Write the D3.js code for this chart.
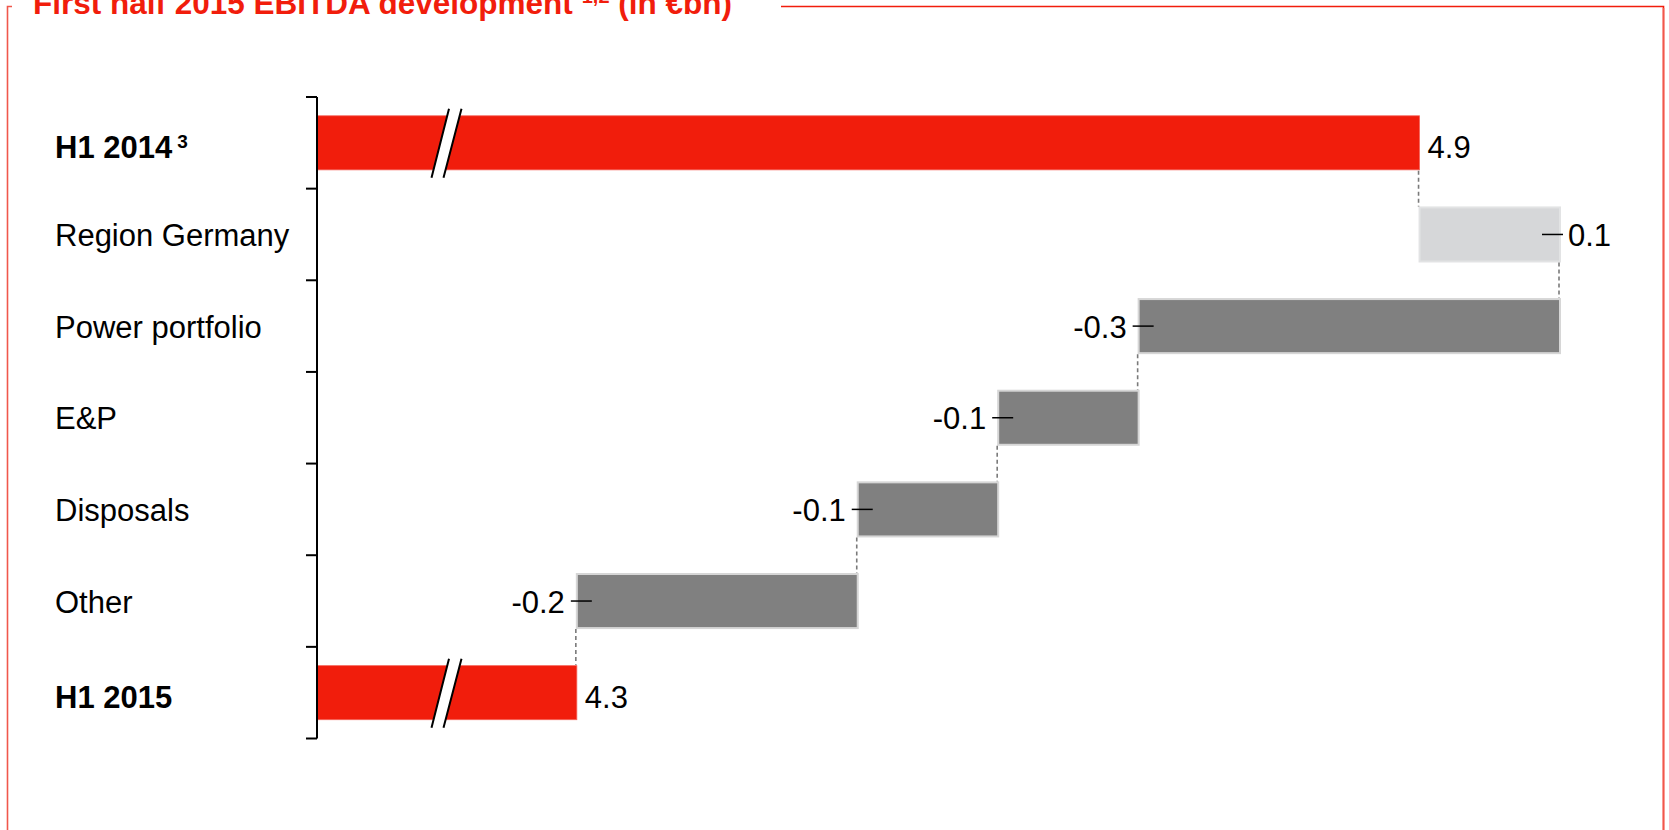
<!DOCTYPE html>
<html>
<head>
<meta charset="utf-8">
<script src="https://cdn.jsdelivr.net/npm/d3@7"></script>
<style>
  html, body { margin: 0; padding: 0; background: #fff; }
  svg { display: block; font-family: "Liberation Sans", Arial, sans-serif; }
</style>
</head>
<body>
<svg id="chart" width="1669" height="830"></svg>
<script>
// Bridge of EBITDA from H1 2014 to H1 2015 (€bn)
const categories = ["H1 2014", "Region Germany", "Power portfolio", "E&P", "Disposals", "Other", "H1 2015"];
const footnotes  = ["3", "", "", "", "", "", ""];
const values     = [4.9, 0.1, -0.3, -0.1, -0.1, -0.2, 4.3];
const kinds      = ["total", "delta", "delta", "delta", "delta", "delta", "total"];
const valueLabels = ["4.9", "0.1", "-0.3", "-0.1", "-0.1", "-0.2", "4.3"];
const totalRows  = [true, false, false, false, false, false, true];

const RED = "#f11d0c";
const svg = d3.select("#chart");

// Axis starts above zero (broken axis), so the scale domain begins at 4.115
const x = d3.scaleLinear().domain([4.115, 5.0]).range([317, 1560]);
const y = d3.scaleBand().domain(categories).range([97, 738.5])
  .paddingInner(0.41).paddingOuter(0.205);

// running totals for the waterfall
let running = 0;
const rows = categories.map((c, i) => {
  let start, end;
  if (kinds[i] === "total") { start = x.domain()[0]; end = values[i]; running = values[i]; }
  else { start = running; end = running + values[i]; running = end; }
  return { cat: c, sup: footnotes[i], v: values[i], kind: kinds[i], start, end, label: valueLabels[i], bold: totalRows[i] };
});

// frame around the chart
const frame = svg.append("g").attr("fill", "none");
frame.append("path").attr("d", "M12,6.5 H7.5 V830").attr("stroke", "#f0574c").attr("stroke-width", 1.6);
frame.append("path").attr("d", "M781,6.5 H1663.5 V830").attr("stroke", RED).attr("stroke-width", 1.6);
frame.append("path").attr("d", "M1663.5,8 V830").attr("stroke", "#f0574c").attr("stroke-width", 1.6);

// title
const title = svg.append("text").attr("x", 33).attr("y", 14)
  .attr("fill", RED).attr("font-weight", "bold").attr("font-size", 31.5);
title.append("tspan").text("First half 2015 EBITDA development");
title.append("tspan").attr("dx", 9).attr("dy", -11).attr("font-size", 20).text("1,2");
title.append("tspan").attr("dx", 0).attr("dy", 11).text(" (in €bn)");

// bars
const barColor = d => d.kind === "total" ? RED : (d.v > 0 ? "#d6d7d9" : "#808080");
const barStroke = d => d.kind === "total" ? "#f5645a" : (d.v > 0 ? "#e2e3e4" : "#d6d6d6");

svg.append("g").selectAll("rect").data(rows).join("rect")
  .attr("x", d => x(Math.min(d.start, d.end)))
  .attr("y", d => y(d.cat))
  .attr("width", d => Math.abs(x(d.end) - x(d.start)))
  .attr("height", y.bandwidth())
  .attr("fill", barColor)
  .attr("stroke", barStroke)
  .attr("stroke-width", d => d.kind === "total" ? 0.8 : 2);

// dashed connectors between consecutive bars
svg.append("g").selectAll("line").data(rows.slice(0, -1)).join("line")
  .attr("x1", d => x(d.end) - 1).attr("x2", d => x(d.end) - 1)
  .attr("y1", d => y(d.cat) + y.bandwidth() + 1)
  .attr("y2", (d, i) => y(rows[i + 1].cat) - 1)
  .attr("stroke", "#7a7a7a").attr("stroke-width", 1.6)
  .attr("stroke-dasharray", "4,3");

// axis break marks on the total bars
const breakX = 446;
const brk = svg.append("g").selectAll("g").data(rows.filter(d => d.kind === "total")).join("g")
  .attr("transform", d => `translate(${breakX},${y(d.cat) + y.bandwidth() / 2})`);
brk.append("path").attr("d", "M-14.5,35 L3,-34 L15.5,-34 L-2.5,35 Z").attr("fill", "#fff");
brk.append("path").attr("d", "M-14.5,35 L3,-34 M-2.5,35 L15.5,-34")
  .attr("stroke", "#000").attr("stroke-width", 2).attr("fill", "none");

// category axis with ticks at band boundaries
const step = y.step();
const y0 = y.range()[0];
const axis = svg.append("g").attr("stroke", "#000").attr("stroke-width", 2);
axis.append("line").attr("x1", x.range()[0]).attr("x2", x.range()[0])
  .attr("y1", y0).attr("y2", y.range()[1]);
axis.selectAll("line.tick").data(d3.range(categories.length + 1)).join("line")
  .attr("class", "tick")
  .attr("x1", x.range()[0] - 11).attr("x2", x.range()[0])
  .attr("y1", i => y0 + i * step).attr("y2", i => y0 + i * step);

// category labels
const catLabels = svg.append("g").selectAll("text").data(rows).join("text")
  .attr("x", 55)
  .attr("y", d => y(d.cat) + y.bandwidth() / 2 + (d.bold ? 15.5 : 11.5))
  .attr("font-size", 31)
  .attr("font-weight", d => d.bold ? "bold" : "normal")
  .attr("fill", "#000");
catLabels.append("tspan").text(d => d.cat);
catLabels.filter(d => d.sup).append("tspan")
  .attr("dx", 5).attr("dy", -10).attr("font-size", 19).text(d => d.sup);

// value labels with leader ticks
const vl = svg.append("g");
rows.forEach(d => {
  const cy = y(d.cat) + y.bandwidth() / 2;
  const ex = x(d.end);
  if (d.kind === "total") {
    vl.append("text").attr("x", ex + 8).attr("y", cy + 15.5)
      .attr("font-size", 31).attr("fill", "#000").text(d.label);
  } else if (d.v > 0) {
    vl.append("line").attr("x1", ex - 18).attr("x2", ex + 3).attr("y1", cy).attr("y2", cy)
      .attr("stroke", "#000").attr("stroke-width", 1.5);
    vl.append("text").attr("x", ex + 8).attr("y", cy + 11.5)
      .attr("font-size", 31).attr("fill", "#000").text(d.label);
  } else {
    vl.append("line").attr("x1", ex - 6).attr("x2", ex + 15).attr("y1", cy).attr("y2", cy)
      .attr("stroke", "#000").attr("stroke-width", 1.5);
    vl.append("text").attr("x", ex - 12).attr("y", cy + 11.5).attr("text-anchor", "end")
      .attr("font-size", 31).attr("fill", "#000").text(d.label);
  }
});
</script>
</body>
</html>
